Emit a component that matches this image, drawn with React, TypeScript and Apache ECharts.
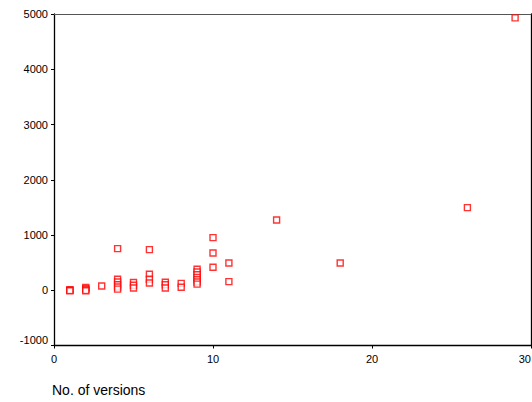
import React, { useEffect, useRef } from "react";
import * as echarts from "echarts";

const versionsX: number[] = [
  1, 1, 1,
  2, 2, 2, 2,
  3,
  4, 4, 4, 4, 4, 4,
  5, 5, 5,
  6, 6, 6, 6,
  7, 7, 7,
  8, 8,
  9, 9, 9, 9, 9, 9, 9,
  10, 10, 10,
  11, 11,
  14,
  18,
  26,
  29,
];
const valuesY: number[] = [
  10, 0, -10,
  50, 30, 10, -10,
  78,
  753, 200, 150, 100, 60, 20,
  140, 90, 40,
  735, 290, 200, 130,
  145, 100, 40,
  125, 55,
  380, 330, 280, 230, 190, 150, 110,
  952, 675, 416,
  494, 156,
  1272,
  494,
  1495,
  4930,
];
const xTicks = [0, 10, 20, 30];
const yTicks = [-1000, 0, 1000, 2000, 3000, 4000, 5000];
const xTitle = "No. of versions";

export default function App() {
  const ref = useRef<HTMLDivElement>(null);
  useEffect(() => {
    if (!ref.current) return;
    const chart = echarts.init(ref.current, null, { renderer: "svg" });
    const data = versionsX.map((x, i) => [x, valuesY[i]]);
    const font = "'Liberation Sans', Arial, sans-serif";
    chart.setOption({
      animation: false,
      backgroundColor: "#fff",
      grid: { left: 54, top: 14, right: 1, bottom: 56.5, containLabel: false, outerBoundsMode: "none" },
      title: {
        text: xTitle,
        left: 52,
        top: 382,
        padding: 0,
        textStyle: { fontFamily: font, fontSize: 14, lineHeight: 16, fontWeight: "normal", color: "#000" },
      },
      xAxis: [
        {
          type: "value",
          min: xTicks[0],
          max: xTicks[xTicks.length - 1],
          interval: 10,
          splitLine: { show: false },
          axisLine: { show: true, onZero: false, lineStyle: { color: "#000", width: 1.3 } },
          axisTick: { show: true, length: 3, lineStyle: { color: "#000" } },
          axisLabel: {
            margin: 8,
            fontSize: 11,
            color: "#000",
            fontFamily: font,
            showMaxLabel: true,
            alignMaxLabel: "right",
          },
        },
        {
          type: "value",
          position: "top",
          min: xTicks[0],
          max: xTicks[xTicks.length - 1],
          splitLine: { show: false },
          axisLine: { show: true, onZero: false, lineStyle: { color: "#555", width: 1 } },
          axisTick: { show: false },
          axisLabel: { show: false },
        },
      ],
      yAxis: [
        {
          type: "value",
          min: yTicks[0],
          max: yTicks[yTicks.length - 1],
          interval: 1000,
          splitLine: { show: false },
          axisLine: { show: true, onZero: false, lineStyle: { color: "#000", width: 1.3 } },
          axisTick: { show: true, length: 3, lineStyle: { color: "#000" } },
          axisLabel: {
            margin: 6,
            fontSize: 11,
            color: "#000",
            fontFamily: font,
            formatter: (v: number) => String(v),
            verticalAlignMinLabel: "bottom",
          },
        },
        {
          type: "value",
          position: "right",
          min: yTicks[0],
          max: yTicks[yTicks.length - 1],
          splitLine: { show: false },
          axisLine: { show: true, onZero: false, lineStyle: { color: "#000", width: 1.3 } },
          axisTick: { show: false },
          axisLabel: { show: false },
        },
      ],
      series: [
        {
          type: "scatter",
          data,
          symbol: "rect",
          symbolSize: 6,
          itemStyle: { color: "#fff", borderColor: "#ff0000", borderWidth: 1.4 },
        },
      ],
    });
    return () => chart.dispose();
  }, []);
  return <div ref={ref} style={{ width: 532, height: 402, position: "absolute", left: 0, top: 0 }} />;
}
